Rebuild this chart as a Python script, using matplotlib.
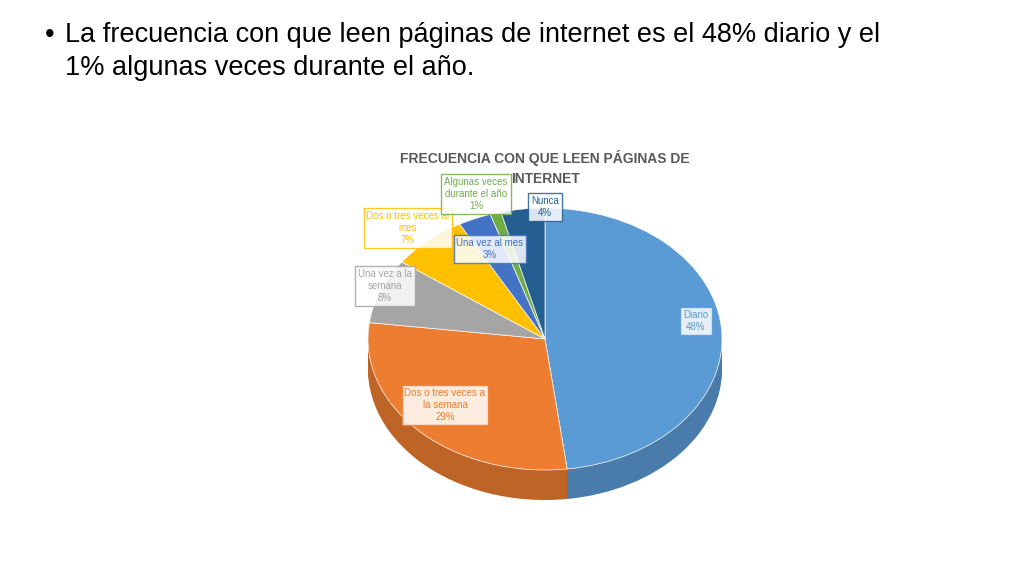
import matplotlib.pyplot as plt
import matplotlib.colors as mcolors
import numpy as np

categories = ['Diario', 'Dos o tres veces a\nla semana', 'Una vez a la\nsemana',
              'Dos o tres veces al\nmes', 'Una vez al mes', 'Algunas veces\ndurante el año', 'Nunca']
values = [48, 29, 8, 7, 3, 1, 4]
colors = ['#5B9BD5', '#ED7D31', '#A5A5A5', '#FFC000', '#4472C4', '#70AD47', '#255E91']
label_colors = ['#5B9BD5', '#ED7D31', '#A5A5A5', '#FFC000', '#4472C4', '#70AD47', '#255E91']
# label box centres in pixels
label_pos = [(696, 321), (445, 405), (385, 286), (408, 228), (490, 249), (476, 194), (545, 207)]

W, H = 1024, 576
fig = plt.figure(figsize=(W / 100, H / 100), dpi=100)

# ellipse of the pie top face in pixels
x0, x1, y0, y1 = 368, 722, 208, 470
depth = 30

def pie_axes(dy):
    ax = fig.add_axes([x0 / W, (H - y1 - dy) / H, (x1 - x0) / W, (y1 - y0) / H])
    ax.axis('off')
    return ax

def fix(ax):
    ax.set_aspect('auto')
    ax.set_xlim(-1, 1)
    ax.set_ylim(-1, 1)

dark = [tuple(c * 0.8 for c in mcolors.to_rgb(col)) for col in colors]
for dy in range(depth, 0, -2):
    ax = pie_axes(dy)
    ax.pie(values, colors=dark, startangle=90, counterclock=False, radius=1,
           wedgeprops=dict(linewidth=0))
    fix(ax)

ax = pie_axes(0)
ax.pie(values, colors=colors, startangle=90, counterclock=False, radius=1,
       wedgeprops=dict(linewidth=0.5, edgecolor='white'))
fix(ax)

fig.text(45 / W, 1 - 35 / H, '•', fontsize=19.5, family='Liberation Sans', va='center')
fig.text(65 / W, 1 - 35 / H, 'La frecuencia con que leen páginas de internet es el 48% diario y el',
         fontsize=19.5, family='Liberation Sans', va='center')
fig.text(65 / W, 1 - 68 / H, '1% algunas veces durante el año.',
         fontsize=19.5, family='Liberation Sans', va='center')

fig.text(545 / W, 1 - 168 / H, 'FRECUENCIA CON QUE LEEN PÁGINAS DE\nINTERNET', ha='center', va='center',
         fontsize=10, fontweight='bold', color='#595959', family='Liberation Sans', linespacing=1.6)

for cat, v, (px, py), c in zip(categories, values, label_pos, label_colors):
    fig.text(px / W, 1 - py / H, f'{cat}\n{v}%', ha='center', va='center', fontsize=7,
             color=c, family='Liberation Sans',
             bbox=dict(boxstyle='square,pad=0.3', facecolor='white', edgecolor=c, alpha=0.85))

fig.savefig('out.png', dpi=100)
